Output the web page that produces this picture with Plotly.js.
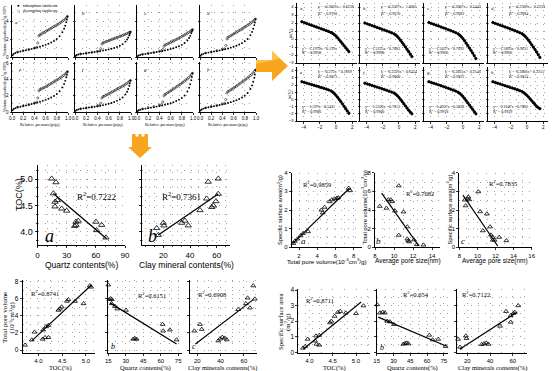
<!DOCTYPE html>
<html><head><meta charset="utf-8">
<script src="https://cdn.plot.ly/plotly-3.0.1.min.js"></script>
<style>html,body{margin:0;padding:0;background:#fff;}#chart{width:553px;height:371px;}</style>
</head><body><div id="chart"></div>
<script>
// ===== DATA =====
// N2 isotherms (relative pressure, volume adsorbed)
const isoP_ads = [0.01,0.03,0.06,0.10,0.15,0.20,0.25,0.30,0.35,0.40,0.45,0.50,0.55,0.60,0.65,0.70,0.75,0.80,0.85,0.90,0.93,0.95,0.97,0.98,0.99];
const isoP_des = [0.99,0.97,0.95,0.92,0.90,0.87,0.85,0.82,0.80,0.77,0.75,0.72,0.70,0.67,0.65,0.62,0.60,0.57,0.55,0.52,0.50,0.48,0.46,0.44,0.40,0.30,0.20,0.10];
const isoAds_a = [0.20,0.35,0.45,0.55,0.62,0.70,0.77,0.84,0.92,1.00,1.08,1.17,1.27,1.38,1.50,1.65,1.82,2.05,2.35,2.80,3.20,3.55,3.95,4.25,4.60];
const isoDes_a = [4.60,4.45,4.30,4.15,4.05,3.92,3.83,3.72,3.64,3.53,3.45,3.34,3.26,3.15,3.08,2.97,2.90,2.79,2.71,2.60,2.52,2.40,1.60,1.10,1.02,0.86,0.72,0.57];
const isoAds_b = [0.12,0.22,0.28,0.34,0.38,0.43,0.48,0.52,0.57,0.62,0.67,0.73,0.79,0.86,0.93,1.02,1.13,1.27,1.46,1.74,1.98,2.20,2.45,2.63,2.85];
const isoDes_b = [2.85,2.78,2.72,2.64,2.58,2.50,2.45,2.38,2.33,2.26,2.21,2.14,2.09,2.02,1.97,1.90,1.85,1.78,1.73,1.66,1.61,1.45,0.95,0.68,0.63,0.53,0.45,0.35];
const isoAds_c = [0.10,0.18,0.24,0.30,0.35,0.40,0.45,0.50,0.56,0.62,0.68,0.75,0.82,0.90,0.99,1.10,1.22,1.38,1.58,1.88,2.15,2.40,2.70,2.88,3.10];
const isoDes_c = [3.10,3.00,2.90,2.78,2.70,2.58,2.50,2.40,2.33,2.22,2.15,2.05,1.98,1.88,1.81,1.72,1.65,1.56,1.50,1.42,1.36,1.20,0.85,0.70,0.64,0.52,0.42,0.31];
const isoAds_d = [0.15,0.28,0.36,0.44,0.50,0.56,0.62,0.68,0.75,0.82,0.89,0.97,1.06,1.16,1.27,1.41,1.57,1.78,2.05,2.48,2.85,3.20,3.62,3.92,4.30];
const isoDes_d = [4.30,4.18,4.06,3.92,3.82,3.69,3.60,3.48,3.40,3.28,3.20,3.08,3.00,2.88,2.80,2.69,2.61,2.50,2.42,2.31,2.24,2.05,1.30,0.93,0.86,0.72,0.58,0.45];
const isoAds_e = [0.22,0.38,0.48,0.58,0.66,0.74,0.82,0.90,0.99,1.08,1.17,1.27,1.38,1.50,1.64,1.80,1.99,2.24,2.57,3.05,3.48,3.86,4.30,4.62,5.00];
const isoDes_e = [5.00,4.85,4.70,4.53,4.42,4.28,4.18,4.05,3.96,3.83,3.75,3.62,3.54,3.41,3.33,3.21,3.13,3.02,2.95,2.85,2.78,2.62,1.75,1.20,1.10,0.92,0.77,0.60];
const isoAds_f = [0.14,0.26,0.33,0.40,0.45,0.50,0.55,0.60,0.66,0.72,0.78,0.85,0.93,1.02,1.12,1.24,1.38,1.56,1.80,2.18,2.52,2.85,3.25,3.55,3.90];
const isoDes_f = [3.90,3.78,3.66,3.52,3.43,3.30,3.21,3.10,3.02,2.90,2.82,2.71,2.63,2.51,2.44,2.32,2.25,2.14,2.07,1.96,1.90,1.72,1.10,0.82,0.76,0.62,0.50,0.39];
const isoAds_g = [0.12,0.22,0.29,0.36,0.42,0.48,0.54,0.60,0.67,0.74,0.82,0.90,0.99,1.10,1.22,1.36,1.53,1.75,2.05,2.55,3.00,3.45,3.95,4.35,4.80];
const isoDes_g = [4.80,4.62,4.45,4.25,4.12,3.95,3.83,3.68,3.58,3.43,3.33,3.19,3.09,2.94,2.85,2.71,2.62,2.48,2.40,2.27,2.19,2.00,1.25,0.92,0.85,0.68,0.55,0.40];
const isoAds_h = [0.18,0.32,0.42,0.51,0.58,0.65,0.72,0.79,0.87,0.95,1.03,1.12,1.22,1.33,1.46,1.61,1.79,2.03,2.35,2.85,3.30,3.75,4.25,4.65,5.20];
const isoDes_h = [5.20,5.02,4.85,4.65,4.52,4.35,4.22,4.07,3.97,3.81,3.71,3.56,3.46,3.31,3.22,3.07,2.98,2.84,2.75,2.62,2.54,2.35,1.55,1.08,1.00,0.83,0.68,0.52];
const isoLabels = ['a','b','c','d','e','f','g','h'];

// FHH fractal plots: ln(ln(p0/p)) vs ln(V)
const fhhX = [-4.2,-3.9,-3.6,-3.3,-3.0,-2.7,-2.4,-2.1,-1.8,-1.5,-1.2,-0.9,-0.6,-0.4,-0.2,0.0,0.2,0.4,0.6,0.8,1.0,1.2,1.4,1.6];
const fhhY_a = [2.16,2.05,1.94,1.83,1.72,1.61,1.50,1.39,1.28,1.17,1.06,0.95,0.82,0.70,0.55,0.38,0.16,-0.08,-0.33,-0.58,-0.83,-1.08,-1.33,-1.58];
const fhhY_b = [2.00,1.89,1.78,1.67,1.56,1.45,1.34,1.23,1.12,1.01,0.90,0.78,0.64,0.50,0.32,0.10,-0.16,-0.44,-0.72,-1.00,-1.28,-1.56,-1.88,-2.20];
const fhhY_c = [2.06,1.95,1.84,1.73,1.62,1.50,1.39,1.28,1.16,1.05,0.93,0.80,0.64,0.48,0.28,0.05,-0.22,-0.52,-0.82,-1.12,-1.42,-1.74,-2.08,-2.45];
const fhhY_d = [2.06,1.95,1.84,1.73,1.62,1.51,1.40,1.28,1.17,1.05,0.93,0.80,0.65,0.50,0.32,0.10,-0.16,-0.44,-0.73,-1.02,-1.32,-1.62,-1.95,-2.30];
const fhhY_e = [2.46,2.36,2.26,2.16,2.06,1.96,1.86,1.76,1.66,1.55,1.44,1.32,1.18,1.02,0.82,0.58,0.30,0.00,-0.30,-0.62,-0.95,-1.28,-1.60,-1.92];
const fhhY_f = [2.25,2.15,2.04,1.93,1.82,1.71,1.60,1.49,1.38,1.26,1.14,1.02,0.88,0.72,0.52,0.28,0.00,-0.30,-0.60,-0.90,-1.20,-1.50,-1.76,-2.00];
const fhhY_g = [2.46,2.35,2.24,2.13,2.02,1.90,1.78,1.66,1.54,1.42,1.29,1.16,1.00,0.84,0.64,0.40,0.12,-0.18,-0.48,-0.78,-1.08,-1.38,-1.70,-2.00];
const fhhY_h = [2.46,2.35,2.24,2.13,2.02,1.91,1.80,1.69,1.58,1.47,1.35,1.22,1.08,0.94,0.76,0.56,0.32,0.06,-0.20,-0.46,-0.72,-0.98,-1.14,-1.29];
const fhhEqUpper = ['y = -0.3826x + 0.6238','y = -0.3597x + 1.0001','y = -0.3607x + 0.5442','y = -0.3709x + 0.2259','y = -0.272x + 0.1669','y = -0.3526x + 0.6434','y = -0.3825x + 0.2146','y = -0.3806x - 0.2255'];
const fhhR2Upper = ['0.9760','0.9670','0.9982','0.9984','0.9873','0.9800','0.9822','0.9814'];
const fhhEqLower = ['y = -1.1979x - 0.129x','y = -1.5225x - 0.7083','y = -1.5037x - 0.7692','y = -1.5893x - 0.9631','y = -1.597x - 0.5431','y = -1.5326x - 0.7613','y = -1.4957x - 0.5038','y = -2.1647x - 0.7882'];
const fhhR2Lower = ['0.9958','0.9990','0.9963','0.9962','0.9986','0.9900','0.9918','0.9929'];

// TOC vs mineral contents
const quartzA = [14.6,19.0,16.3,20.3,18.0,24.9,30.0,39.6,41.9,38.2,39.6,60.1,66.0,60.8,70.4,18.0];
const tocA    = [5.01,4.94,4.73,4.60,4.48,4.44,4.40,4.19,4.21,4.11,4.13,4.19,4.13,4.03,3.89,4.57];
const fitA_x = [16.3,71.1], fitA_y = [4.73,3.87];
const clayB = [15.0,20.0,20.5,16.2,33.8,36.2,38.7,47.5,52.5,53.7,56.3,57.5,59.5,61.2,61.2];
const tocB  = [4.07,4.17,4.12,3.94,4.17,4.21,4.12,4.41,4.63,4.95,4.47,4.50,4.58,5.01,4.72];
const fitB_x = [16.2,61.2], fitB_y = [3.94,4.72];

// SSA / TPV / APS
const tpvMR = [1.38,1.55,1.82,2.18,2.45,3.00,4.45,4.60,4.80,5.35,5.60,5.90,6.14,6.30,7.44,7.60];
const ssaMR = [0.21,0.33,0.45,0.62,0.75,0.84,2.00,1.85,2.15,2.45,2.55,2.60,2.63,2.66,3.17,3.04];
const fitMRa_x = [1.3,7.5], fitMRa_y = [0.20,3.15];
const apsMR = [8.5,9.2,9.4,9.65,9.8,10.5,10.1,11.0,10.5,11.4,11.4,11.5,11.6,12.1,13.1,12.4];
const tpvMR2 = [4.4,4.2,5.1,5.1,4.9,6.6,3.9,3.8,1.3,2.2,0.9,0.7,0.6,0.8,0.25,0.3];
const fitMRb_x = [8.7,12.6], fitMRb_y = [5.8,0.15];
const apsMR2 = [8.6,8.9,9.0,9.1,8.7,10.1,10.3,11.05,10.6,11.4,11.5,11.7,11.9,12.4,13.2,11.7];
const ssaMR2 = [2.54,2.60,2.70,2.55,2.23,2.98,1.91,1.79,0.89,1.10,0.66,0.54,0.39,0.54,0.36,0.39];
const fitMRc_x = [8.4,12.25], fitMRc_y = [2.8,0.07];

// TPV vs TOC / quartz / clay
const tocBL = [3.72,3.86,3.92,4.09,4.14,4.21,4.10,4.16,4.21,4.42,4.45,4.49,4.60,4.63,4.77,4.95,5.08,5.11];
const tpvBL = [0.58,1.19,2.10,1.27,1.46,1.46,2.35,2.73,2.88,4.65,4.80,5.04,5.70,5.88,5.69,5.42,7.50,7.35];
const fitBLa_x = [3.86,5.12], fitBLa_y = [1.07,7.61];
const quartzBL = [15.0,15.9,17.0,18.0,17.9,20.7,22.7,30.2,36.4,37.8,39.3,61.6,62.1,67.9,73.6];
const tpvBL2 = [7.60,5.88,6.00,5.90,5.42,5.10,4.80,4.65,1.27,1.35,1.27,3.00,2.23,2.35,1.19];
const fitBLb_x = [16.5,73.6], fitBLb_y = [5.5,0.7];
const clayBL = [17.4,22.3,23.8,39.5,41.5,43.5,45.2,38.0,55.1,61.7,63.2,68.0,69.4,65.2];
const tpvBL3 = [2.23,3.00,2.42,1.30,1.50,1.40,1.20,1.07,4.73,5.42,6.08,7.50,5.96,4.92];
const fitBLc_x = [18.4,68.0], fitBLc_y = [0.7,5.88];

// SSA vs TOC / quartz / clay
const tocBR = [3.86,3.91,3.96,4.12,4.15,4.21,4.14,4.21,4.44,4.47,4.54,4.61,4.66,4.78,5.00,5.16];
const ssaBR = [0.27,0.38,0.84,0.73,0.52,0.46,1.05,1.09,1.90,2.00,2.32,2.57,2.63,2.53,2.49,2.99];
const fitBRa_x = [3.87,5.11], fitBRa_y = [0.21,3.23];
const quartzBR = [15.5,17.9,20.3,22.3,24.5,26.9,30.4,38.8,40.3,41.8,43.3,62.0,65.0,70.0,76.6];
const ssaBR2 = [3.06,2.53,2.58,2.53,2.00,1.96,1.79,0.52,0.57,0.60,0.55,1.10,0.80,0.84,0.38];
const fitBRb_x = [16.4,77.5], fitBRb_y = [2.26,0.38];
const clayBR = [11.9,18.7,19.3,13.6,32.7,34.7,36.7,38.6,48.8,54.1,58.2,58.2,61.9,64.8,60.5];
const ssaBR3 = [0.84,1.05,0.89,0.33,0.50,0.55,0.60,0.52,1.68,2.63,2.36,1.94,2.57,3.00,2.50];
const fitBRc_x = [13.6,63.6], fitBRc_y = [0.21,2.57];

// ===== BUILD =====
const W = 553, H = 371;
const traces = [], annotations = [], shapes = [];
const layout = {width:W, height:H, margin:{l:0,r:0,t:0,b:0}, paper_bgcolor:'#fff', plot_bgcolor:'rgba(0,0,0,0)',
  showlegend:false, annotations:annotations, shapes:shapes, font:{family:'Liberation Sans', color:'#000'}};
const GRID = '#a0a0a0';
let count = 0;
function axis(o){
  const base = {showline:true, linecolor:'#000', linewidth:1, mirror:false, ticks:'outside', ticklen:2, tickwidth:0.8, tickcolor:'#000',
    zeroline:false, showgrid:true, gridcolor:GRID, griddash:'1px,6px', gridwidth:1, fixedrange:true, automargin:false};
  const r = Object.assign(base, o);
  if (o.minorD) { r.minor = {dtick:o.minorD, showgrid:true, gridcolor:GRID, griddash:'1px,6px', gridwidth:1, ticks:o.minorTicks||'', ticklen:1, tickcolor:'#000'}; delete r.minorD; delete r.minorTicks; }
  return r;
}
function panel(box, xo, yo){
  count++;
  const s = count === 1 ? '' : String(count);
  layout['xaxis'+s] = axis(Object.assign({domain:[box[0]/W, box[1]/W], anchor:'y'+s}, xo));
  layout['yaxis'+s] = axis(Object.assign({domain:[1-box[3]/H, 1-box[2]/H], anchor:'x'+s}, yo));
  return {xaxis:'x'+s, yaxis:'y'+s};
}
function txt(x, y, text, size, family, extra){
  annotations.push(Object.assign({xref:'paper', yref:'paper', x:x/W, y:1-y/H, text:text, showarrow:false,
    xanchor:'center', yanchor:'middle', font:{size:size, family:family||'Liberation Sans', color:'#000'}}, extra||{}));
}
function pts(ax, x, y, sym, size, extra){
  traces.push(Object.assign({type:'scatter', mode:'markers', x:x, y:y, xaxis:ax.xaxis, yaxis:ax.yaxis, cliponaxis:false, hoverinfo:'skip',
    marker:{symbol:sym, size:size, color:'#000', line:{color:'#000', width:0.8}}}, extra||{}));
}
function fit(ax, x, y, w){
  traces.push({type:'scatter', mode:'lines', x:x, y:y, xaxis:ax.xaxis, yaxis:ax.yaxis, cliponaxis:false, hoverinfo:'skip', line:{color:'#000', width:w||1.2}});
}

// --- isotherm panels ---
const isoAds = [isoAds_a,isoAds_b,isoAds_c,isoAds_d,isoAds_e,isoAds_f,isoAds_g,isoAds_h];
const isoDes = [isoDes_a,isoDes_b,isoDes_c,isoDes_d,isoDes_e,isoDes_f,isoDes_g,isoDes_h];
const isoCols = [12, 75, 137, 200], isoRows = [[5,57],[62,112]];
for (let i = 0; i < 8; i++) {
  const c = i % 4, r = Math.floor(i / 4);
  const L = isoCols[c], T = isoRows[r][0], B = isoRows[r][1];
  const ax = panel([L, L+56, T, B],
    {range:[0,1.0], tickvals:[0,0.2,0.4,0.6,0.8,1.0], ticktext:['0.0','0.2','0.4','0.6','0.8','1.0'], showticklabels:r===1, tickfont:{size:4.5}, ticklen:1.5},
    {range:r===0?[0,5.9]:[0,6.2], tickvals:r===0?[0,2,4]:[0,2,4,6], showticklabels:c===0, tickfont:{size:4.5}, ticklen:1.5, minorD:1});
  pts(ax, isoP_ads, isoAds[i], 'circle', 1.9, {marker:{symbol:'circle', size:1.9, color:'#000', line:{width:0}}});
  pts(ax, isoP_des, isoDes[i], 'circle-open', 2.1, {marker:{symbol:'circle-open', size:2.1, color:'#000', line:{color:'#000', width:0.5}}});
  if (i === 0) txt(L+4, T+18, '<i>'+isoLabels[i]+'</i>', 5, 'Liberation Serif');
  else txt(L+8, T+8, '<i>'+isoLabels[i]+'</i>', 5, 'Liberation Serif');
  if (r === 1) txt(L+28, 124.5, 'Relative pressure(p/p<sub>0</sub>)', 4.3, 'Liberation Serif');
}
txt(4, 31, 'Volume adsorbed(cm<sup>3</sup>/g STP)', 4.2, 'Liberation Serif', {textangle:-90});
txt(4, 87, 'Volume adsorbed(cm<sup>3</sup>/g STP)', 4.2, 'Liberation Serif', {textangle:-90});
txt(18, 5, '●', 4.5); txt(21, 5, 'adsorption isotherm', 4.3, 'Liberation Serif', {xanchor:'left'});
txt(18, 11, '○', 4.5); txt(21, 11, 'desorption isotherm', 4.3, 'Liberation Serif', {xanchor:'left'});

// --- FHH panels ---
const fhhY = [fhhY_a,fhhY_b,fhhY_c,fhhY_d,fhhY_e,fhhY_f,fhhY_g,fhhY_h];
const fhhCols = [297, 360, 424, 488], fhhRows = [[3,63],[67,121]];
for (let i = 0; i < 8; i++) {
  const c = i % 4, r = Math.floor(i / 4);
  const L = fhhCols[c], T = fhhRows[r][0], B = fhhRows[r][1];
  const ax = panel([L, L+60, T, B],
    {range:[-4.8,2.6], tickvals:[-4,-2,0,2], showticklabels:r===1, tickfont:{size:4.5}, ticklen:1.5, minorD:1},
    {range:[-3,4.5], tickvals:[-3,-2,-1,0,1,2,3,4], showticklabels:c===0, tickfont:{size:4.2}, ticklen:1.5});
  pts(ax, fhhX, fhhY[i], 'circle', 2.4, {mode:'lines+markers', line:{color:'#000', width:1.1}});
  txt(L+4, T+5, '<i>'+isoLabels[i]+'</i>', 5, 'Liberation Serif');
  txt(L+19, T+4, fhhEqUpper[i], 4, 'Liberation Serif', {xanchor:'left'});
  txt(L+19, T+10, 'R<sup>2</sup> = '+fhhR2Upper[i], 4, 'Liberation Serif', {xanchor:'left'});
  txt(L+3, B-15, fhhEqLower[i], 4, 'Liberation Serif', {xanchor:'left'});
  txt(L+3, B-10, 'R<sup>2</sup> = '+fhhR2Lower[i], 4, 'Liberation Serif', {xanchor:'left'});
}
txt(290, 33, 'ln(V)', 4.3, 'Liberation Serif', {textangle:-90});
txt(290, 94, 'ln(V)', 4.3, 'Liberation Serif', {textangle:-90});

// --- TOC vs minerals (middle-left) ---
let ax = panel([37.5,125,165,245],
  {range:[0,90], tickvals:[0,30,60,90], tickfont:{size:8}, ticklen:2, minorD:10, minorTicks:'outside'},
  {range:[3.75,5.27], tickvals:[4.0,4.5,5.0], ticktext:['4.0','4.5','5.0'], tickfont:{size:9}, minorD:0.5/3, minorTicks:'outside'});
pts(ax, quartzA, tocA, 'triangle-up-open', 5.5);
fit(ax, fitA_x, fitA_y, 1.3);
txt(96, 196, 'R<sup>2</sup>=0.7222', 9, 'Liberation Serif');
txt(49, 236, '<i>a</i>', 18, 'Liberation Serif');
txt(19, 195, 'TOC(%)', 9, 'Liberation Sans', {textangle:-90});
txt(81, 264.5, 'Quartz contents(%)', 8.5, 'Liberation Sans');

ax = panel([142,230,165,245],
  {range:[4,70], tickvals:[20,40,60], tickfont:{size:8}, ticklen:2, minorD:20/3, minorTicks:'outside'},
  {range:[3.75,5.27], tickvals:[4.0,4.5,5.0], showticklabels:false, minorD:0.5/3, minorTicks:'outside'});
pts(ax, clayB, tocB, 'triangle-up-open', 5.5);
fit(ax, fitB_x, fitB_y, 1.3);
txt(181, 196, 'R<sup>2</sup>=0.7361', 9, 'Liberation Serif');
txt(152, 236, '<i>b</i>', 18, 'Liberation Serif');
txt(186, 264.5, 'Clay mineral contents(%)', 8.5, 'Liberation Sans');

// --- SSA/TPV/APS (middle-right) ---
ax = panel([291.7,362,172.7,247.3],
  {range:[1.2,8.9], tickvals:[2,4,6,8], tickfont:{size:6}, minorD:1},
  {range:[0,4], tickvals:[0,1,2,3,4], tickfont:{size:6}, minorD:0.5});
pts(ax, tpvMR, ssaMR, 'triangle-up-open', 4.2);
fit(ax, fitMRa_x, fitMRa_y, 1.2);
txt(317, 184, 'R<sup>2</sup>=0.9859', 6.5, 'Liberation Serif');
txt(303, 241, '<i>a</i>', 9, 'Liberation Serif');
txt(279, 210, 'Specific surface area(m<sup>2</sup>/g)', 5.8, 'Liberation Sans', {textangle:-90});
txt(327, 261, 'Total pore volume(10<sup>-3</sup>cm<sup>3</sup>/g)', 6.2, 'Liberation Sans');

ax = panel([375,440,172.7,247.3],
  {range:[8,14.84], tickvals:[8,10,12,14], tickfont:{size:6}, minorD:1},
  {range:[0,8], tickvals:[0,2,4,6,8], tickfont:{size:6}, minorD:1});
pts(ax, apsMR, tpvMR2, 'triangle-up-open', 4.2);
fit(ax, fitMRb_x, fitMRb_y, 1.2);
txt(420, 193, 'R<sup>2</sup>=0.7082', 6.5, 'Liberation Serif');
txt(378, 241, '<i>b</i>', 9, 'Liberation Serif');
txt(364.5, 207, 'Total pore volume(10<sup>-3</sup>cm<sup>3</sup>/g)', 5.8, 'Liberation Sans', {textangle:-90});
txt(408, 261, 'Average pore size(nm)', 6.5, 'Liberation Sans');

ax = panel([459.3,531.7,172.7,247.3],
  {range:[8,16], tickvals:[8,10,12,14,16], tickfont:{size:6}, minorD:1},
  {range:[0,4], tickvals:[0,1,2,3,4], tickfont:{size:6}, minorD:0.5});
pts(ax, apsMR2, ssaMR2, 'triangle-up-open', 4.2);
fit(ax, fitMRc_x, fitMRc_y, 1.2);
txt(503, 183, 'R<sup>2</sup>=0.7835', 6.5, 'Liberation Serif');
txt(463, 241, '<i>c</i>', 9, 'Liberation Serif');
txt(448.5, 210, 'Specific surface area(m<sup>2</sup>/g)', 5.8, 'Liberation Sans', {textangle:-90});
txt(495, 261, 'Average pore size(nm)', 6.5, 'Liberation Sans');

// --- TPV vs TOC/minerals (bottom-left) ---
ax = panel([22.7,95,280,353],
  {range:[3.67,5.19], tickvals:[4.0,4.5,5.0], ticktext:['4.0','4.5','5.0'], tickfont:{size:6}, ticklen:1.5, minorD:0.25},
  {range:[-0.35,8.17], tickvals:[0,2,4,6,8], tickfont:{size:6.5}, minorD:1});
pts(ax, tocBL, tpvBL, 'triangle-up-open', 4.2);
fit(ax, fitBLa_x, fitBLa_y, 1.2);
txt(45, 293, 'R<sup>2</sup>=0.8741', 6.5, 'Liberation Serif');
txt(5, 318, 'Total pore volume', 7, 'Liberation Serif', {textangle:-90});
txt(11.5, 318, '(10<sup>-3</sup>cm<sup>3</sup>/g)', 6.8, 'Liberation Serif', {textangle:-90});
txt(60, 367.5, 'TOC(%)', 6.5, 'Liberation Serif');

ax = panel([108.3,181.7,280,353],
  {range:[15,78], tickvals:[15,30,45,60,75], tickfont:{size:6}, ticklen:1.5, minorD:7.5},
  {range:[-0.35,8.17], tickvals:[0,2,4,6,8], showticklabels:false, minorD:1});
pts(ax, quartzBL, tpvBL2, 'triangle-up-open', 4.2);
fit(ax, fitBLb_x, fitBLb_y, 1.2);
txt(152, 295, 'R<sup>2</sup>=0.6151', 6.5, 'Liberation Serif');
txt(113, 346, '<i>b</i>', 8, 'Liberation Serif');
txt(145, 367.5, 'Quartz contents(%)', 6.5, 'Liberation Serif');

ax = panel([190,256.7,280,353],
  {range:[13.7,71], tickvals:[20,40,60], tickfont:{size:6}, ticklen:1.5, minorD:10},
  {range:[-0.35,8.17], tickvals:[0,2,4,6,8], showticklabels:false, minorD:1});
pts(ax, clayBL, tpvBL3, 'triangle-up-open', 4.2);
fit(ax, fitBLc_x, fitBLc_y, 1.2);
txt(212, 294, 'R<sup>2</sup>=0.6908', 6.5, 'Liberation Serif');
txt(194, 346, '<i>c</i>', 8, 'Liberation Serif');
txt(222, 367.5, 'Clay minerals contents(%)', 6.5, 'Liberation Serif');

// --- SSA vs TOC/minerals (bottom-right) ---
ax = panel([298.3,370,289.3,353],
  {range:[3.76,5.3], tickvals:[4.0,4.5,5.0], ticktext:['4.0','4.5','5.0'], tickfont:{size:6}, ticklen:1.5, minorD:0.25},
  {range:[-0.05,4.05], tickvals:[0,1,2,3,4], tickfont:{size:6.5}, minorD:0.5});
pts(ax, tocBR, ssaBR, 'triangle-up-open', 4.2);
fit(ax, fitBRa_x, fitBRa_y, 1.2);
txt(320, 300, 'R<sup>2</sup>=0.8711', 6.5, 'Liberation Serif');
txt(280, 322, 'Specific surface area', 6.8, 'Liberation Serif', {textangle:-90});
txt(287, 322, '(m<sup>2</sup>/g)', 6.8, 'Liberation Serif', {textangle:-90});
txt(334, 367.5, 'TOC(%)', 6.5, 'Liberation Serif');

ax = panel([376.7,448.3,289.3,353],
  {range:[15,79], tickvals:[15,30,45,60,75], tickfont:{size:6}, ticklen:1.5, minorD:7.5},
  {range:[-0.05,4.05], tickvals:[0,1,2,3,4], showticklabels:false, minorD:0.5});
pts(ax, quartzBR, ssaBR2, 'triangle-up-open', 4.2);
fit(ax, fitBRb_x, fitBRb_y, 1.2);
txt(416, 294, 'R<sup>2</sup>=0.654', 6.5, 'Liberation Serif');
txt(382, 347, '<i>b</i>', 8, 'Liberation Serif');
txt(412, 367.5, 'Quartz contents(%)', 6.5, 'Liberation Serif');

ax = panel([457.3,526.7,289.3,353],
  {range:[11.2,72.3], tickvals:[20,40,60], tickfont:{size:6}, ticklen:1.5, minorD:10},
  {range:[-0.05,4.05], tickvals:[0,1,2,3,4], showticklabels:false, minorD:0.5});
pts(ax, clayBR, ssaBR3, 'triangle-up-open', 4.2);
fit(ax, fitBRc_x, fitBRc_y, 1.2);
txt(476, 294, 'R<sup>2</sup>=0.7122', 6.5, 'Liberation Serif');
txt(462, 348, '<i>c</i>', 7, 'Liberation Serif');
txt(492, 367.5, 'Clay minerals contents(%)', 6.5, 'Liberation Serif');

// --- orange arrows ---
function pathPx(pairs){
  return 'M ' + pairs.map(p => (p[0]/W).toFixed(5) + ',' + (1-p[1]/H).toFixed(5)).join(' L ') + ' Z';
}
shapes.push({type:'path', xref:'paper', yref:'paper', layer:'above', fillcolor:'#F7A51E', line:{width:0},
  path: pathPx([[256,60],[272,60],[272,51],[288,66],[272,81],[272,72],[256,72]])});
shapes.push({type:'path', xref:'paper', yref:'paper', layer:'above', fillcolor:'#F7A51E', line:{width:0},
  path: pathPx([[132,134],[135.5,134],[135.5,136.5],[138.5,136.5],[138.5,134],[141.5,134],[141.5,136.5],[144.5,136.5],[144.5,134],[148,134],[148,147],[152,147],[140,158],[128,147],[132,147]])});
shapes.push({type:'path', xref:'paper', yref:'paper', layer:'above', fillcolor:'#FBC34A', line:{width:0},
  path: pathPx([[256,60],[272,60],[272,51],[280,58.5],[256,64]])});

Plotly.newPlot('chart', traces, layout, {staticPlot:true, displayModeBar:false});
</script></body></html>
